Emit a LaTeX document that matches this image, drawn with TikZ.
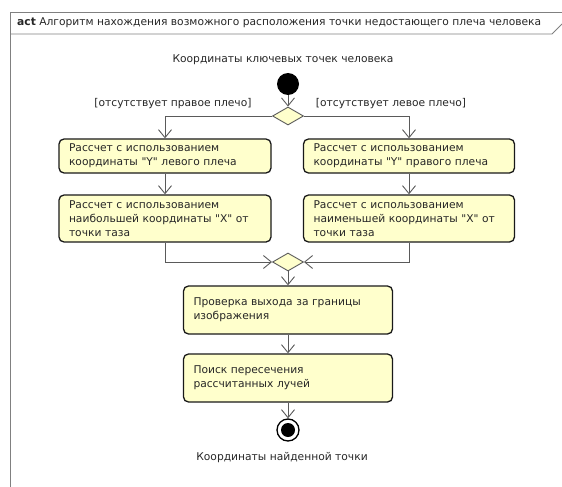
\documentclass[tikz,border=0pt]{standalone}
\usepackage{fontspec}
\setmainfont{DejaVu Sans}[Ligatures=TeXOff]
\usetikzlibrary{arrows.meta,shapes.geometric}
\definecolor{actfill}{RGB}{255,255,204}
\definecolor{linegray}{RGB}{90,90,90}
\definecolor{framegray}{RGB}{128,128,128}
\begin{document}
\begin{tikzpicture}[x=1pt,y=-1pt,
  txt/.style={font=\fontsize{10.7}{14}\selectfont, text=black!85},
  action/.style={txt, draw=black!90, line width=1.3pt, fill=actfill, rounded corners=5pt,
    align=left, inner xsep=10pt, inner ysep=3pt, anchor=center},
  decision/.style={diamond, draw=linegray, line width=0.9pt, fill=actfill, minimum width=31pt, minimum height=18pt, inner sep=0pt},
  flow/.style={draw=linegray, line width=0.9pt, -{Straight Barb[length=8pt,width=13pt,line width=0.9pt]}},
  lbl/.style={txt, inner sep=1pt}
]
\useasboundingbox (0,0) rectangle (562,487);
% frame
\draw[framegray, line width=0.9pt] (10,490) -- (10,12.5) -- (565,12.5);
\draw[framegray, line width=0.9pt] (10,34) -- (552,34) -- (562,24);
\node[txt, anchor=west, inner sep=0pt] (title) at (17,23) {\textbf{act} Алгоритм нахождения возможного расположения точки недостающего плеча человека};

\node[lbl] (intext) at (283,60) {Координаты ключевых точек человека};
\node[circle, fill=black, minimum size=22pt, inner sep=0pt] (init) at (288,84) {};
\node[decision] (d1) at (288,116) {};
\node[lbl] (ll) at (173,104) {[отсутствует правое плечо]};
\node[lbl] (rl) at (391,104) {[отсутствует левое плечо]};

\node[action, text width=192pt, minimum height=34pt] (l1) at (165,156) {Рассчет с использованием\\координаты "Y" левого плеча};
\node[action, text width=192pt, minimum height=47pt] (l2) at (165,218.5) {Рассчет с использованием\\наибольшей координаты "X" от\\точки таза};
\node[action, text width=191pt, minimum height=34pt] (r1) at (409,156) {Рассчет с использованием\\координаты "Y" правого плеча};
\node[action, text width=191pt, minimum height=47pt] (r2) at (409,218.5) {Рассчет с использованием\\наименьшей координаты "X" от\\точки таза};

\node[decision] (d2) at (288,262) {};
\node[action, text width=189pt, minimum height=48pt] (b3) at (288,310) {Проверка выхода за границы\\изображения};
\node[action, text width=189pt, minimum height=48pt] (b4) at (288,378) {Поиск пересечения\\рассчитанных лучей};

\node[circle, draw=black, line width=1.3pt, fill=white, minimum size=22pt, inner sep=0pt] (fin) at (288,430) {};
\node[circle, fill=black, minimum size=14pt, inner sep=0pt] (finin) at (fin.center) {};
\node[lbl] (outtext) at (282,458) {Координаты найденной точки};

\draw[flow] (init) -- (d1);
\draw[flow] (d1.west) -| (l1.north);
\draw[flow] (d1.east) -| (r1.north);
\draw[flow] (l1) -- (l2);
\draw[flow] (r1) -- (r2);
\draw[flow] (l2.south) |- (d2.west);
\draw[flow] (r2.south) |- (d2.east);
\draw[flow] (d2) -- (b3);
\draw[flow] (b3) -- (b4);
\draw[flow] (b4) -- (fin);
\end{tikzpicture}
\end{document}
